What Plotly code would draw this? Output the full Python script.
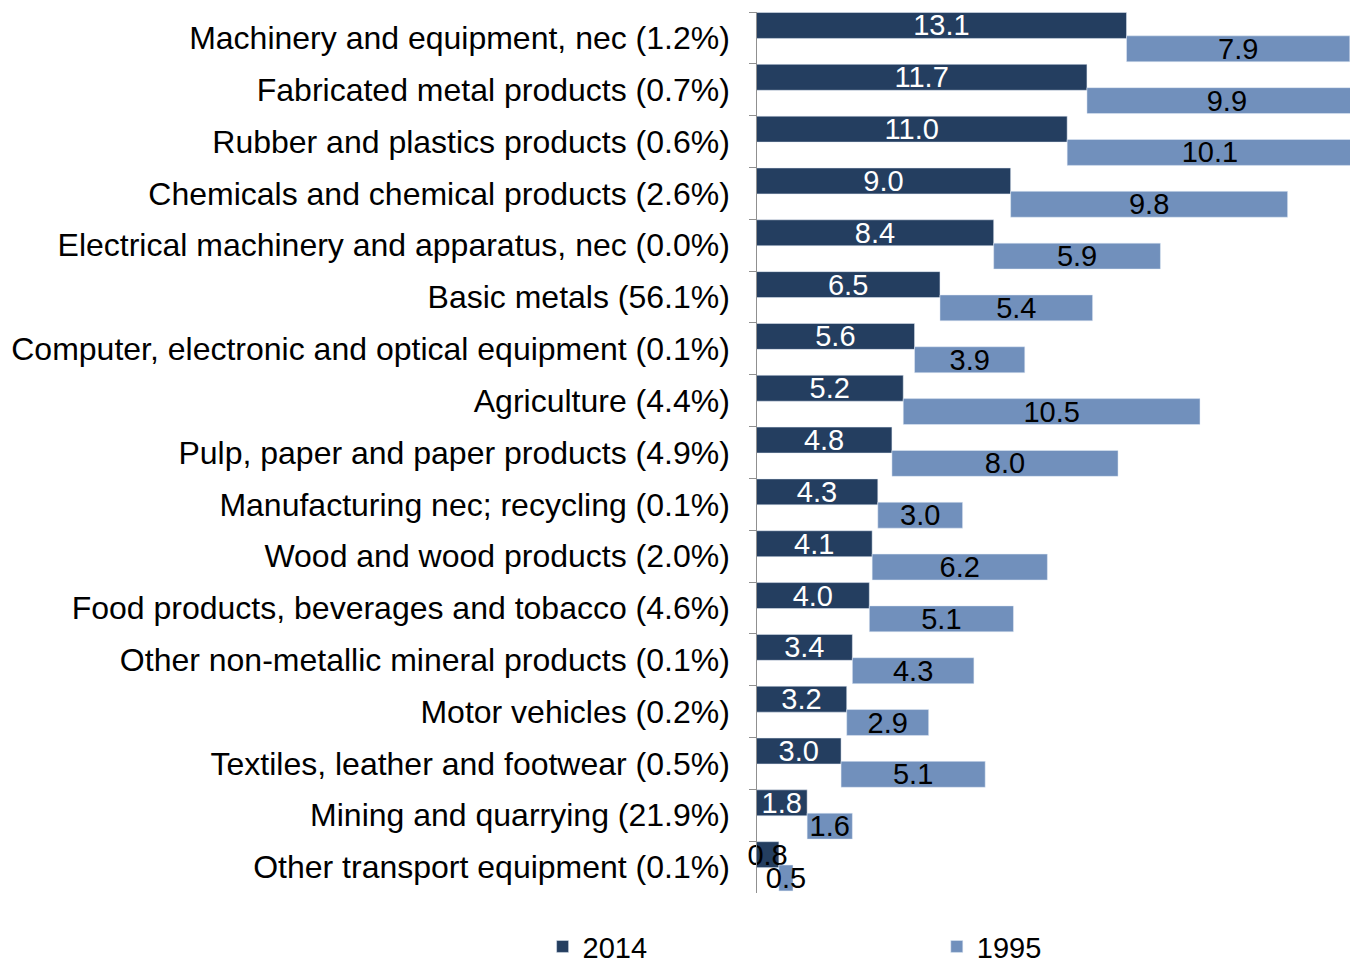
import plotly.graph_objects as go

categories = [
    "Machinery and equipment, nec (1.2%)",
    "Fabricated metal products (0.7%)",
    "Rubber and plastics products (0.6%)",
    "Chemicals and chemical products (2.6%)",
    "Electrical machinery and apparatus, nec (0.0%)",
    "Basic metals (56.1%)",
    "Computer, electronic and optical equipment (0.1%)",
    "Agriculture (4.4%)",
    "Pulp, paper and paper products (4.9%)",
    "Manufacturing nec; recycling (0.1%)",
    "Wood and wood products (2.0%)",
    "Food products, beverages and tobacco (4.6%)",
    "Other non-metallic mineral products (0.1%)",
    "Motor vehicles (0.2%)",
    "Textiles, leather and footwear (0.5%)",
    "Mining and quarrying (21.9%)",
    "Other transport equipment (0.1%)",
]
values_2014 = [13.1, 11.7, 11.0, 9.0, 8.4, 6.5, 5.6, 5.2, 4.8, 4.3, 4.1, 4.0, 3.4, 3.2, 3.0, 1.8, 0.8]
values_1995 = [7.9, 9.9, 10.1, 9.8, 5.9, 5.4, 3.9, 10.5, 8.0, 3.0, 6.2, 5.1, 4.3, 2.9, 5.1, 1.6, 0.5]

dark = "#243E60"
light = "#7190BC"
font = "Liberation Sans, Arial, sans-serif"

fig = go.Figure()
fig.add_trace(go.Bar(
    name="2014", y=categories, x=values_2014, orientation="h",
    marker_color=dark, width=0.5, offset=-0.49,
    text=[f"{v:.1f}" for v in values_2014], textposition="inside",
    insidetextanchor="middle", textangle=0,
    insidetextfont=dict(family=font, size=29,
                        color=["white" if v >= 1 else "black" for v in values_2014]),
    legend="legend",
))
# 1995 bars start where the 2014 bar ends
fig.add_trace(go.Bar(
    name="1995", y=categories, x=values_1995, base=values_2014, orientation="h",
    marker_color=light, width=0.5, offset=-0.04,
    text=[f"{v:.1f}" for v in values_1995], textposition="inside",
    insidetextanchor="middle", textangle=0,
    insidetextfont=dict(family=font, size=29, color="black"),
    legend="legend2",
))

# the page adds an 8px body margin, so the figure is drawn 8px smaller
fig_w, fig_h = 1350, 950
left_pad = 1.0   # room left of the value axis so the 0.8 label is not clipped
x_max = 21.29
margin_l = 720
pos = left_pad / (left_pad + x_max)

legend_style = dict(orientation="h", xref="container", yref="container",
                    y=0.012, xanchor="left", yanchor="middle",
                    font=dict(family=font, size=29), itemwidth=30)

fig.update_layout(
    width=fig_w, height=fig_h,
    barmode="overlay",
    plot_bgcolor="white", paper_bgcolor="white",
    margin=dict(l=margin_l, r=0, t=4, b=65, autoexpand=False),
    font=dict(family=font, size=32, color="black"),
    uniformtext=dict(minsize=29, mode="show"),
    showlegend=True,
    legend=dict(x=0.396, **legend_style),
    legend2=dict(x=0.688, **legend_style),
)
fig.update_xaxes(range=[-left_pad, x_max], visible=False)
fig.update_yaxes(
    anchor="free", position=pos,
    autorange="reversed", showline=True, linecolor="#909090", linewidth=1,
    ticks="outside", ticklen=7, tickcolor="#909090", tickson="boundaries",
    ticklabelstandoff=20, showgrid=False, automargin=False,
)

fig.write_html("out.html")
